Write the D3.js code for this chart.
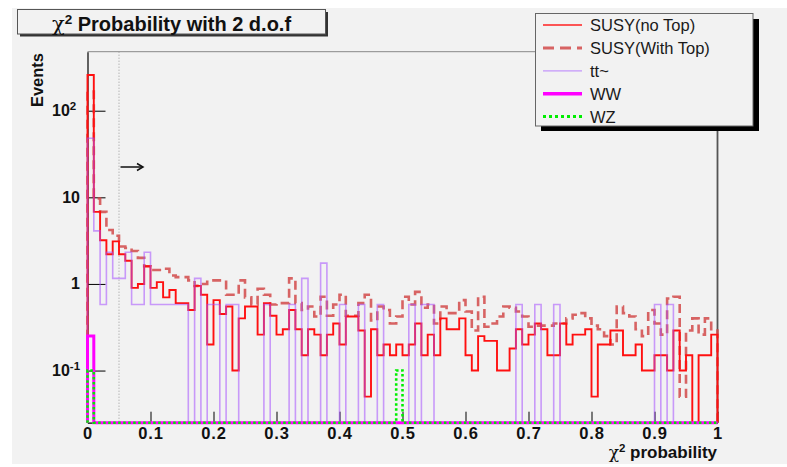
<!DOCTYPE html>
<html><head><meta charset="utf-8">
<script src="https://cdn.jsdelivr.net/npm/d3@7"></script>
<style>body{margin:0;background:#fff;} text{font-family:"Liberation Sans",Arial,Helvetica,sans-serif;}</style>
</head><body><svg id="c" width="787" height="467"></svg>
<script>
// ---- data: 100 bins of chi2 probability, width 0.01 ----
const binLowEdges = d3.range(101).map(i => i / 100);
const xTickLabels = ["0","0.1","0.2","0.3","0.4","0.5","0.6","0.7","0.8","0.9","1"];
const xTickValues = [0,0.1,0.2,0.3,0.4,0.5,0.6,0.7,0.8,0.9,1];
const yTickValues = [0.1, 1, 10, 100];
const yTickBase = ["10","1","10","10"];
const yTickExp  = ["-1","","","2"];
const seriesNames = ["SUSY(no Top)","SUSY(With Top)","tt~","WW","WZ"];

const susyNoTop = [258,6.8,3.2,2.2,3.1,2.2,1.85,0.9,1.0,1.6,
  0.9,1.05,0.7,0.85,0.6,0.6,0.5,0.95,0.75,0.2,
  0.65,0.45,0.55,0.1,0.4,0.55,0.55,0.26,0.6,0.43,
  0.26,0.3,0.5,0.3,0.15,0.3,0.26,0.15,0.26,0.35,
  0.2,0.42,0.42,0.29,0.05,0.3,0.15,0.2,0.15,0.2,
  0.15,0.2,0.35,0.15,0.26,0.15,0.4,0.3,0.3,0.4,
  0.15,0.1,0.25,0.22,0.22,0.1,0.1,0.18,0.3,0.2,
  0.26,0.35,0.3,0.15,0.15,0.35,0.2,0.26,0.26,0.3,
  0.05,0.2,0.2,0.29,0.29,0.15,0.15,0.2,0.1,0.1,
  0.15,0.15,0.1,0.29,0.1,0.15,0,0.15,0.15,0.26];
const susyWithTop = [166,9.7,6.8,4.2,3.6,2.7,2.6,2.4,2.0,1.6,
  1.45,1.45,1.5,1.25,1.2,1.2,1.1,0.95,1.0,1.1,
  1.1,1.1,0.75,0.75,1.1,0.7,0.58,0.88,0.75,0.58,
  0.6,0.6,1.16,0.6,0.5,0.55,0.42,0.71,0.43,0.58,
  0.75,0.43,0.43,0.6,0.75,0.38,0.55,0.5,0.35,0.42,
  0.71,0.58,0.81,0.53,0.58,0.35,0.55,0.46,0.46,0.65,
  0.48,0.29,0.71,0.32,0.35,0.42,0.55,0.53,0.48,0.42,
  0.32,0.33,0.33,0.33,0.35,0.35,0.4,0.44,0.46,0.4,
  0.33,0.3,0.25,0.2,0.55,0.46,0.42,0.3,0.25,0.5,
  0.35,0.26,0.68,0.71,0.05,0.29,0.4,0.26,0.4,0.3];
const ttbar = [48,4.1,0.58,2.32,1.16,1.16,2.32,0.58,0.58,2.32,
  0.58,0.58,0.58,0.58,0.58,0.58,0,1.16,0,0.58,
  0.58,0,0.58,0.58,0,0,0,0,0.58,0,
  0,0,0.58,0,1.16,0,0,1.74,0,0,
  0.58,0,0,0.58,0,0,0.58,0,0,0,
  0,0.58,0,0.58,0.58,0,0,0,0,0,
  0,0,0,0,0,0,0,0,0.58,0,
  0,0.58,0,0,0.58,0,0,0,0,0,
  0,0,0,0,0,0,0,0,0,0,
  0.58,0,0.58,0,0,0,0,0,0,0];
const ww = [0.25,0,0,0,0,0,0,0,0,0, 0,0,0,0,0,0,0,0,0,0, 0,0,0,0,0,0,0,0,0,0,
  0,0,0,0,0,0,0,0,0,0, 0,0,0,0,0,0,0,0,0,0, 0,0,0,0,0,0,0,0,0,0,
  0,0,0,0,0,0,0,0,0,0, 0,0,0,0,0,0,0,0,0,0, 0,0,0,0,0,0,0,0,0,0, 0,0,0,0,0,0,0,0,0,0];
const wz = [0.1,0,0,0,0,0,0,0,0,0, 0,0,0,0,0,0,0,0,0,0, 0,0,0,0,0,0,0,0,0,0,
  0,0,0,0,0,0,0,0,0,0, 0,0,0,0,0,0,0,0,0,0.1, 0,0,0,0,0,0,0,0,0,0,
  0,0,0,0,0,0,0,0,0,0, 0,0,0,0,0,0,0,0,0,0, 0,0,0,0,0,0,0,0,0,0, 0,0,0,0,0,0,0,0,0,0];
const cutValue = 0.05;

// ---- layout ----
const L = 87.5, R = 717.5, T = 51.7, B = 422.7;
const svg = d3.select("#c");
const x = d3.scaleLinear().domain([0,1]).range([L,R]);
const y = d3.scaleLog().domain([0.025,480]).range([B,T]);

svg.append("rect").attr("x",12).attr("y",8).attr("width",775).attr("height",456).attr("fill","#f2f2f2");

// frame
svg.append("line").attr("x1",L).attr("x2",R).attr("y1",T).attr("y2",T).attr("stroke","#888").attr("stroke-width",1);
svg.append("line").attr("x1",R).attr("x2",R).attr("y1",T).attr("y2",B).attr("stroke","#555").attr("stroke-width",1.8);

// cut line + arrow
svg.append("line").attr("x1",x(cutValue)).attr("x2",x(cutValue)).attr("y1",T).attr("y2",B)
  .attr("stroke","#999").attr("stroke-width",1).attr("stroke-dasharray","1,2");
const ay = 167;
svg.append("line").attr("x1",x(cutValue)+1.5).attr("x2",x(cutValue)+23).attr("y1",ay).attr("y2",ay).attr("stroke","#111").attr("stroke-width",1.5);
svg.append("path").attr("d",`M${x(cutValue)+18},${ay-3.5} L${x(cutValue)+24},${ay} L${x(cutValue)+18},${ay+3.5}`).attr("fill","none").attr("stroke","#111").attr("stroke-width",1.5);

// axes (drawn first so the histograms lie over them)
const xMinor = d3.range(0,1.0001,0.02).filter(v=>Math.abs(v*10-Math.round(v*10))>1e-6);
const gx = svg.append("g").attr("transform",`translate(0,${B})`);
gx.call(d3.axisBottom(x).tickValues(xMinor).tickSize(-5.5).tickSizeOuter(0).tickFormat(""));
gx.call(d3.axisBottom(x).tickValues(xTickValues).tickSize(-11).tickSizeOuter(0).tickFormat((d,i)=>xTickLabels[i]));
gx.selectAll("path.domain").attr("stroke","#000").attr("stroke-width",1.2);
gx.selectAll(".tick line").attr("stroke","#000");
gx.selectAll(".tick text").attr("y",16).attr("dy",null).attr("font-size",16.5).attr("font-weight","bold")
  .attr("fill","#111").attr("letter-spacing","0.8px").style("font-family","'Liberation Sans',Arial,sans-serif");

const yMinor = [];
[0.01,0.1,1,10,100].forEach(d=>{ for(let k=2;k<=9;k++){ const v=d*k; if(v>=0.025 && v<=480) yMinor.push(v);} });
const gy = svg.append("g").attr("transform",`translate(${L},0)`);
gy.call(d3.axisLeft(y).tickValues(yMinor).tickSize(-9).tickSizeOuter(0).tickFormat(""));
gy.call(d3.axisLeft(y).tickValues(yTickValues).tickSize(-18).tickSizeOuter(0).tickFormat(""));
gy.selectAll("path.domain").attr("stroke","#000").attr("stroke-width",1.2);
gy.selectAll(".tick line").attr("stroke","#000");

// histograms
function stepPoints(vals){
  const pts = [[x(binLowEdges[0]), B]];
  vals.forEach((v,i)=>{
    const yy = v>0 ? y(v) : B;
    pts.push([x(binLowEdges[i]), yy]);
    pts.push([x(binLowEdges[i+1]), yy]);
  });
  pts.push([x(binLowEdges[vals.length]), B]);
  return pts;
}
const line = d3.line();
const styles = [
  {data: susyWithTop, stroke:"#d24a4a", w:2.6, dash:"9,5", op:0.85},
  {data: susyNoTop, stroke:"#ff1010", w:1.9, dash:null, op:1},
  {data: ttbar, stroke:"#a650ff", w:1.6, dash:null, op:0.55},
  {data: ww, stroke:"#ff00ff", w:3, dash:null, op:1},
  {data: wz, stroke:"#00ee00", w:2.6, dash:"2.5,2.5", op:1}
];
styles.forEach(s=>{
  svg.append("path").attr("d", line(stepPoints(s.data))).attr("fill","none")
    .attr("stroke", s.stroke).attr("stroke-width", s.w).attr("stroke-opacity", s.op)
    .attr("stroke-dasharray", s.dash);
});

yTickValues.forEach((v,i)=>{
  const hasExp = yTickExp[i] !== "";
  const t = svg.append("text").attr("y", y(v)+5.5).attr("font-size",16).attr("font-weight","bold").attr("fill","#111");
  if(hasExp){
    t.attr("x",52).attr("text-anchor","start");
    t.append("tspan").text(yTickBase[i]);
    t.append("tspan").attr("dy",-6).attr("font-size",11.5).text(yTickExp[i]);
  } else {
    t.attr("x",80).attr("text-anchor","end").text(yTickBase[i]);
  }
});

// axis titles
const xt = svg.append("text").attr("x",717).attr("y",458).attr("text-anchor","end").attr("font-size",17).attr("font-weight","bold").attr("fill","#111");
xt.append("tspan").attr("font-weight","normal").style("font-family","'DejaVu Serif',serif").attr("font-size",17).text("χ");
xt.append("tspan").attr("dy",-6).attr("font-size",11.5).text("2");
xt.append("tspan").attr("dy",6).text(" probability");

svg.append("text").attr("transform","translate(43,53) rotate(-90)").attr("text-anchor","end")
  .attr("font-size",16.5).attr("font-weight","bold").attr("fill","#111").text("Events");

// title box
svg.append("rect").attr("x",20).attr("y",12).attr("width",308).attr("height",24.5).attr("fill","#333");
svg.append("rect").attr("x",17.5).attr("y",9.5).attr("width",308).attr("height",24.5).attr("fill","#f2f2f2").attr("stroke","#555").attr("stroke-width",1);
const tt = svg.append("text").attr("x",171.5).attr("y",30.5).attr("text-anchor","middle").attr("font-size",20).attr("font-weight","bold").attr("fill","#111");
tt.append("tspan").attr("font-weight","normal").style("font-family","'DejaVu Serif',serif").attr("font-size",21).text("χ");
tt.append("tspan").attr("dy",-7).attr("font-size",13.5).text("2");
tt.append("tspan").attr("dy",7).text(" Probability with 2 d.o.f");

// legend
svg.append("rect").attr("x",541).attr("y",19).attr("width",218).attr("height",112).attr("fill","#000");
svg.append("rect").attr("x",535.5).attr("y",13.5).attr("width",217.5).attr("height",112.5).attr("fill","#f2f2f2").attr("stroke","#666").attr("stroke-width",1);
const legStyles = [
  {stroke:"#ff2020", w:1.3, dash:null, op:1},
  {stroke:"#d24a4a", w:3, dash:"11,6", op:0.85},
  {stroke:"#b070ff", w:1.3, dash:null, op:0.7},
  {stroke:"#ff00ff", w:3.5, dash:null, op:1},
  {stroke:"#00ee00", w:3, dash:"3,3", op:1}
];
seriesNames.forEach((n,i)=>{
  const cy = 25 + 22.9*i;
  svg.append("line").attr("x1",543).attr("x2",582).attr("y1",cy).attr("y2",cy)
    .attr("stroke",legStyles[i].stroke).attr("stroke-width",legStyles[i].w).attr("stroke-opacity",legStyles[i].op)
    .attr("stroke-dasharray",legStyles[i].dash);
  svg.append("text").attr("x",590).attr("y",cy+6).attr("font-size",16.5).attr("fill","#1a1a1a").text(n);
});
</script></body></html>
